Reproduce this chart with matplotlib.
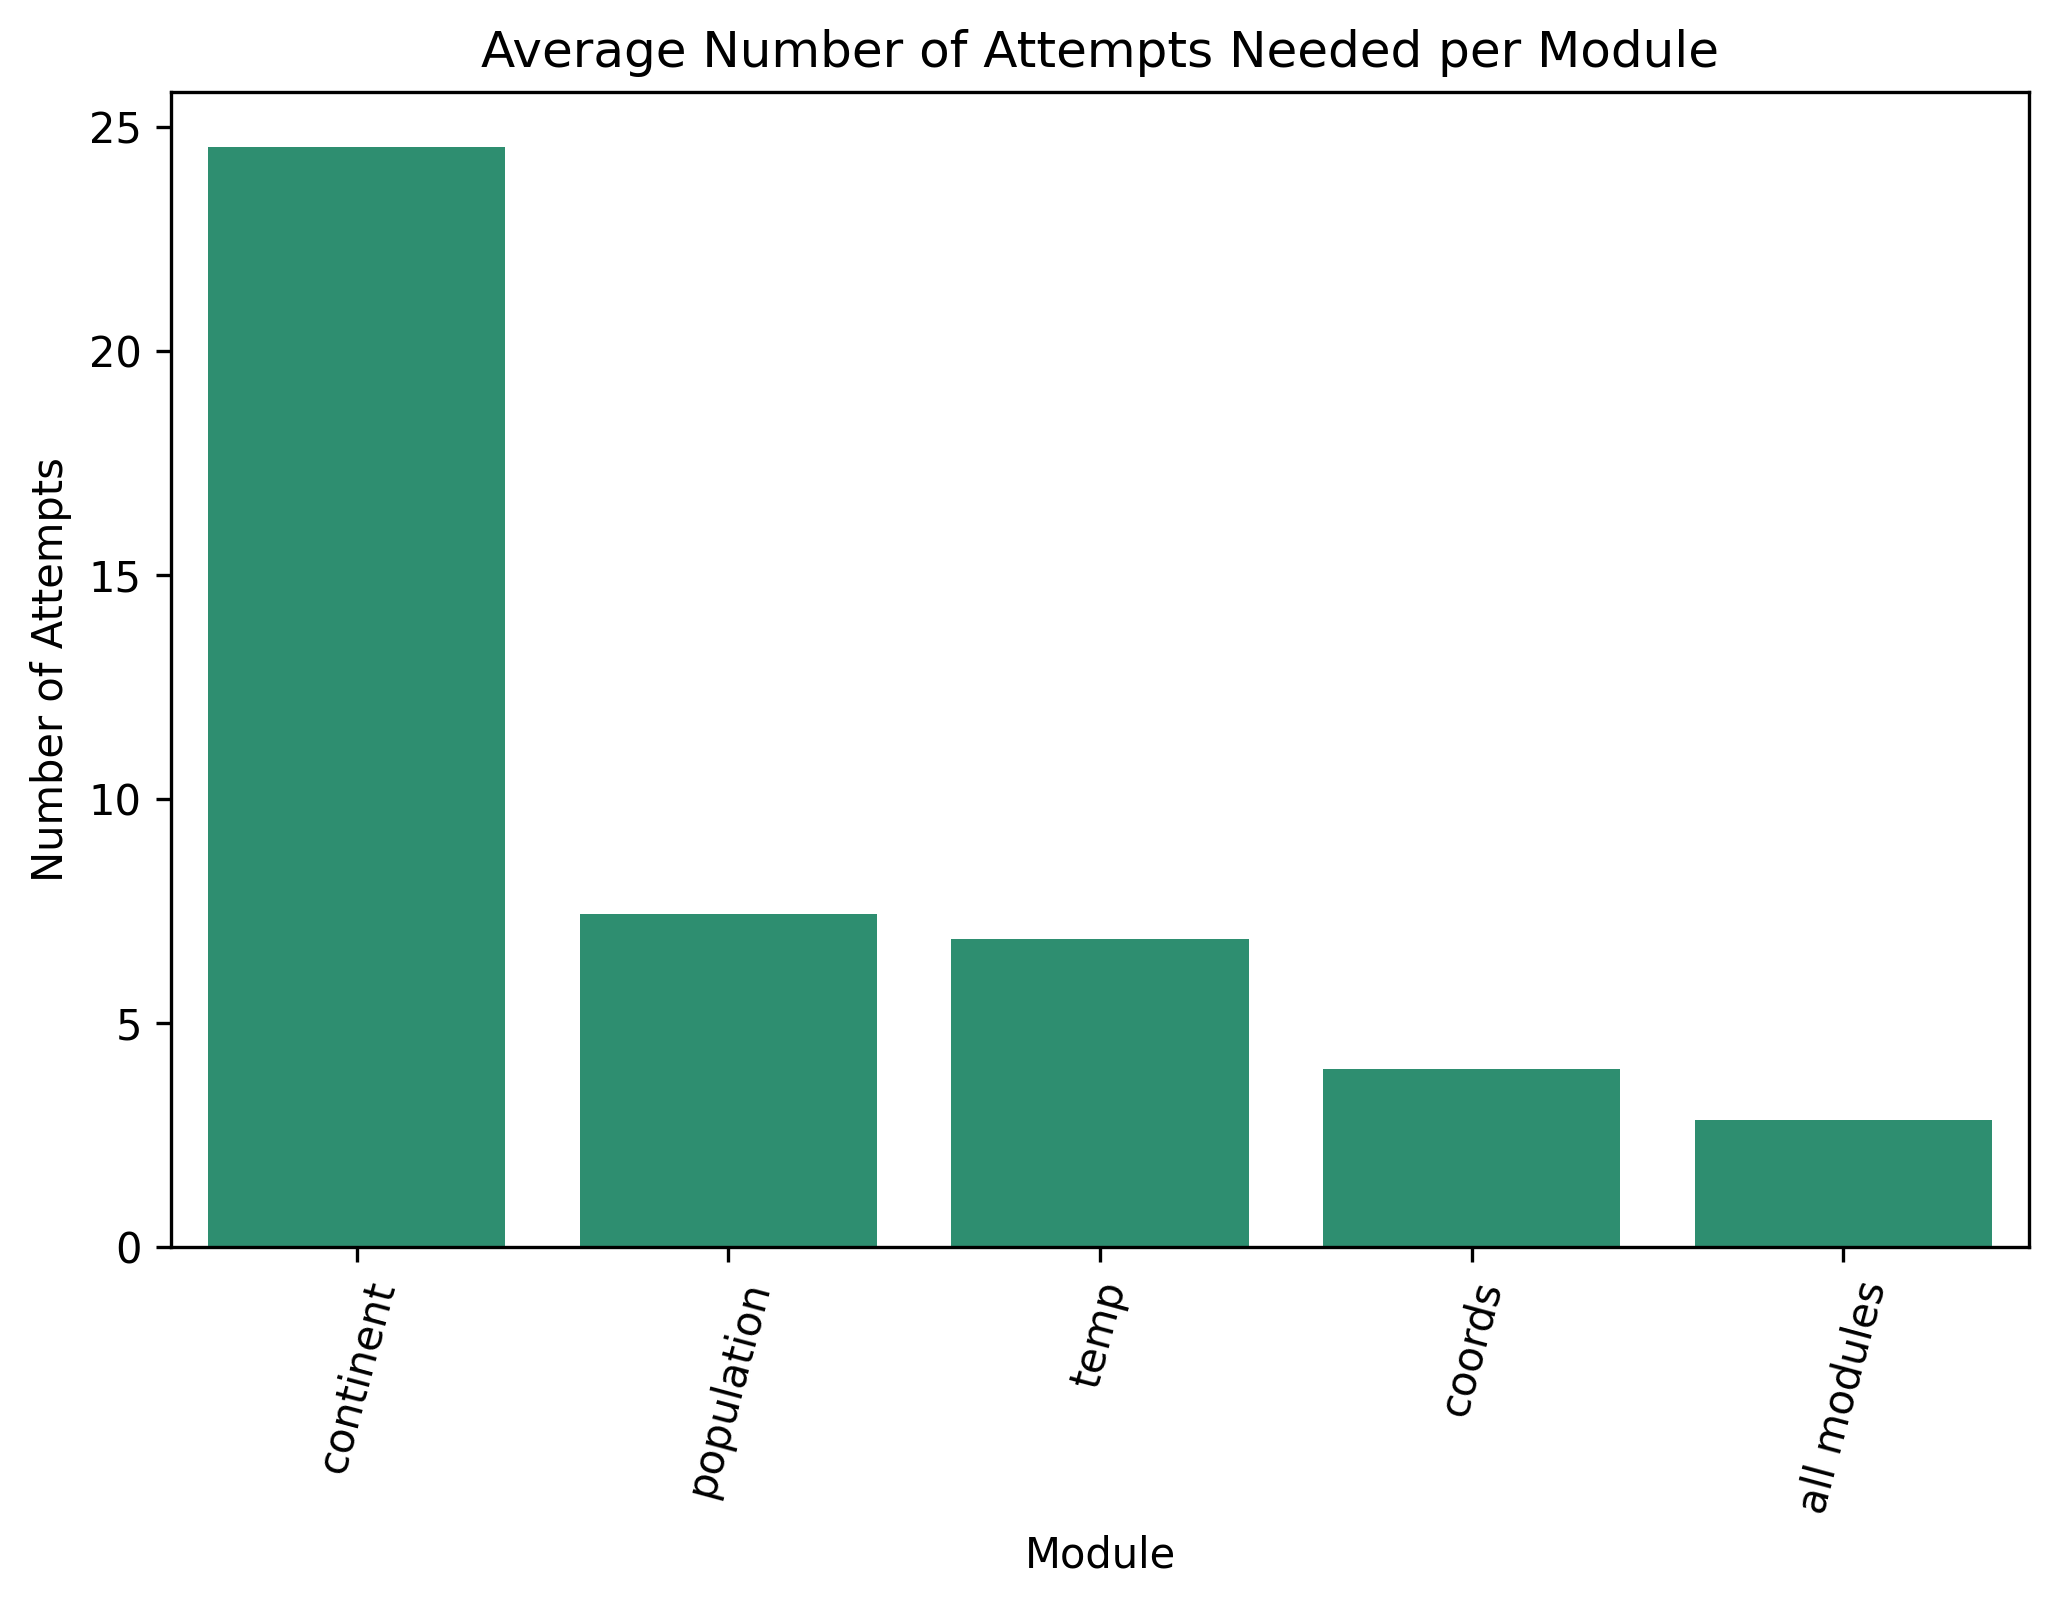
import matplotlib
matplotlib.use("Agg")
import matplotlib.pyplot as plt

modules = ['continent', 'population', 'temp', 'coords', 'all modules']
avg_attempts = [24.56, 7.44, 6.88, 3.97, 2.84]

fig, ax = plt.subplots(figsize=(2060 / 300, 1607 / 300), dpi=300)

ax.bar(modules, avg_attempts, width=0.8, color='#2e8e70')
ax.set_xlim(-0.5, len(modules) - 0.5)

# Adding titles and labels
ax.set_title('Average Number of Attempts Needed per Module', fontsize=12)
ax.set_xlabel('Module')
ax.set_ylabel('Number of Attempts')
plt.xticks(rotation=75)

plt.subplots_adjust(left=0.083, right=0.985, top=0.943, bottom=0.224)
plt.savefig('out.png')
